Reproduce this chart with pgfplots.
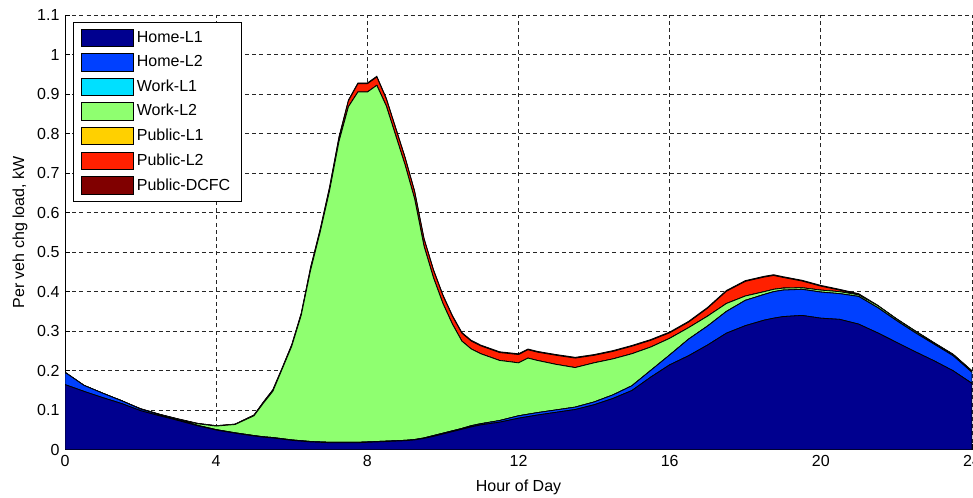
\documentclass[border=0pt,12pt]{standalone}
\usepackage{fontspec}
\setmainfont{Liberation Sans}
\usepackage{pgfplots}
\usepackage{pgfplotstable}
\pgfplotsset{compat=1.18}
\definecolor{cHLa}{RGB}{0,0,143}
\definecolor{cHLb}{RGB}{0,64,255}
\definecolor{cWLa}{RGB}{0,224,255}
\definecolor{cWLb}{RGB}{143,255,112}
\definecolor{cPLa}{RGB}{255,208,0}
\definecolor{cPLb}{RGB}{255,32,0}
\definecolor{cDC}{RGB}{128,0,0}

% layer thicknesses (kW per vehicle), stacked bottom to top
\pgfplotstableread{
h     a     b     c   d     e   f     g
0.0   0.165 0.031 0   0     0   0     0
0.5   0.148 0.015 0   0     0   0     0
1.0   0.132 0.011 0   0     0   0     0
1.5   0.117 0.007 0   0     0   0     0
2.0   0.099 0.004 0   0     0   0.001 0
2.5   0.086 0.003 0   0     0   0.001 0
3.0   0.074 0.002 0   0.001 0   0.001 0
3.5   0.061 0.001 0   0.004 0   0.001 0
4.0   0.050 0.001 0   0.009 0   0.001 0
4.5   0.042 0.001 0   0.021 0   0.001 0
5.0   0.035 0.001 0   0.050 0   0.002 0
5.25  0.032 0.001 0   0.085 0   0.003 0
5.5   0.030 0.001 0   0.117 0   0.004 0
5.75  0.027 0.001 0   0.177 0   0.003 0
6.0   0.024 0.001 0   0.237 0   0.004 0
6.25  0.022 0.001 0   0.317 0   0.005 0
6.5   0.020 0.001 0   0.434 0   0.007 0
6.75  0.019 0.001 0   0.530 0   0.007 0
7.0   0.018 0.001 0   0.636 0   0.008 0.002
7.25  0.018 0.001 0   0.761 0   0.010 0.002
7.5   0.018 0.001 0   0.849 0   0.015 0.002
7.75  0.018 0.001 0   0.886 0   0.021 0.002
8.0   0.019 0.001 0   0.885 0   0.021 0.002
8.25  0.020 0.001 0   0.901 0   0.021 0.002
8.5   0.021 0.001 0   0.848 0   0.018 0.002
8.75  0.022 0.001 0   0.772 0   0.018 0.002
9.0   0.023 0.001 0   0.696 0   0.018 0.002
9.25  0.025 0.001 0   0.609 0   0.018 0.002
9.5   0.029 0.001 0   0.485 0   0.018 0.002
9.75  0.034 0.002 0   0.399 0   0.019 0.002
10.0  0.040 0.002 0   0.328 0   0.020 0.002
10.25 0.046 0.002 0   0.270 0   0.020 0.002
10.5  0.052 0.002 0   0.221 0   0.020 0.002
10.75 0.058 0.003 0   0.194 0   0.020 0.002
11.0  0.063 0.003 0   0.177 0   0.020 0.002
11.5  0.070 0.004 0   0.152 0   0.020 0.002
12.0  0.080 0.006 0   0.134 0   0.021 0.002
12.25 0.084 0.006 0   0.142 0   0.021 0.002
12.5  0.088 0.006 0   0.132 0   0.021 0.002
13.0  0.095 0.006 0   0.115 0   0.023 0.002
13.5  0.102 0.006 0   0.100 0   0.024 0.002
14.0  0.114 0.007 0   0.099 0   0.019 0.002
14.5  0.130 0.009 0   0.091 0   0.019 0.002
15.0  0.150 0.012 0   0.081 0   0.019 0.002
15.5  0.184 0.017 0   0.059 0   0.017 0.002
16.0  0.215 0.025 0   0.042 0   0.014 0.002
16.5  0.238 0.042 0   0.029 0   0.014 0.002
17.0  0.265 0.048 0   0.025 0   0.020 0.002
17.5  0.295 0.055 0   0.020 0   0.031 0.002
18.0  0.314 0.064 0   0.011 0   0.037 0.002
18.5  0.328 0.065 0   0.007 0   0.037 0.002
18.75 0.333 0.067 0   0.006 0   0.035 0.002
19.0  0.337 0.067 0   0.005 0   0.027 0.002
19.5  0.340 0.066 0   0.004 0   0.017 0.002
20.0  0.333 0.066 0   0.005 0   0.010 0.002
20.5  0.330 0.065 0   0.005 0   0.004 0.002
21.0  0.318 0.070 0   0.004 0   0.001 0.002
21.5  0.296 0.064 0   0.005 0   0     0.001
22.0  0.272 0.055 0   0.004 0   0     0.001
22.5  0.248 0.048 0   0.004 0   0     0.001
23.0  0.225 0.042 0   0.003 0   0     0.001
23.5  0.200 0.038 0   0.003 0   0     0.001
24.0  0.168 0.028 0   0.003 0   0     0.001
}\data

\begin{document}
\begin{tikzpicture}
\begin{axis}[
  name=ax,
  scale only axis,
  width=680pt, height=326pt,
  xmin=0, xmax=24, ymin=0, ymax=1.1,
  stack plots=y,
  axis x line*=bottom, axis y line*=left,
  axis line style={black, line width=0.6pt},
  xtick={0,4,8,12,16,20,24},
  ytick={0,0.1,0.2,0.3,0.4,0.5,0.6,0.7,0.8,0.9,1,1.1},
  yticklabel style={/pgf/number format/fixed, /pgf/number format/precision=1},
  /pgf/number format/assume math mode=true,
  tick align=inside,
  major tick length=4pt,
  tick style={black, line width=0.5pt},
  grid=major,
  grid style={black!85, line width=0.6pt, dash pattern=on 3pt off 2.4pt},
  xlabel={Hour of Day},
  xlabel style={yshift=-2pt},
  ylabel={Per veh chg load, kW},
  ylabel style={yshift=-1pt},
  every axis plot/.append style={draw=black, line width=0.6pt},
  legend cell align=left,
  legend image code/.code={\draw[#1, draw=black, line width=0.6pt] (0pt,-6.5pt) rectangle (39pt,6.5pt);},
  legend style={at={(0,1)}, anchor=north west, xshift=6pt, yshift=-5pt,
    draw=black, line width=0.6pt, inner xsep=6pt, inner ysep=5pt,
    row sep=4pt},
]
\addplot[fill=cHLa] table[x=h, y=a] {\data} \closedcycle;
\addplot[fill=cHLb] table[x=h, y=b] {\data} \closedcycle;
\addplot[fill=cWLa] table[x=h, y=c] {\data} \closedcycle;
\addplot[fill=cWLb] table[x=h, y=d] {\data} \closedcycle;
\addplot[fill=cPLa] table[x=h, y=e] {\data} \closedcycle;
\addplot[fill=cPLb] table[x=h, y=f] {\data} \closedcycle;
\addplot[fill=cDC] table[x=h, y=g] {\data} \closedcycle;
\legend{Home-L1, Home-L2, Work-L1, Work-L2, Public-L1, Public-L2, Public-DCFC}
\end{axis}
\pgfresetboundingbox
\path[use as bounding box] ([xshift=-48.75pt,yshift=-36pt]ax.south west) rectangle ([xshift=0.75pt,yshift=11.25pt]ax.north east);
\end{tikzpicture}
\end{document}
